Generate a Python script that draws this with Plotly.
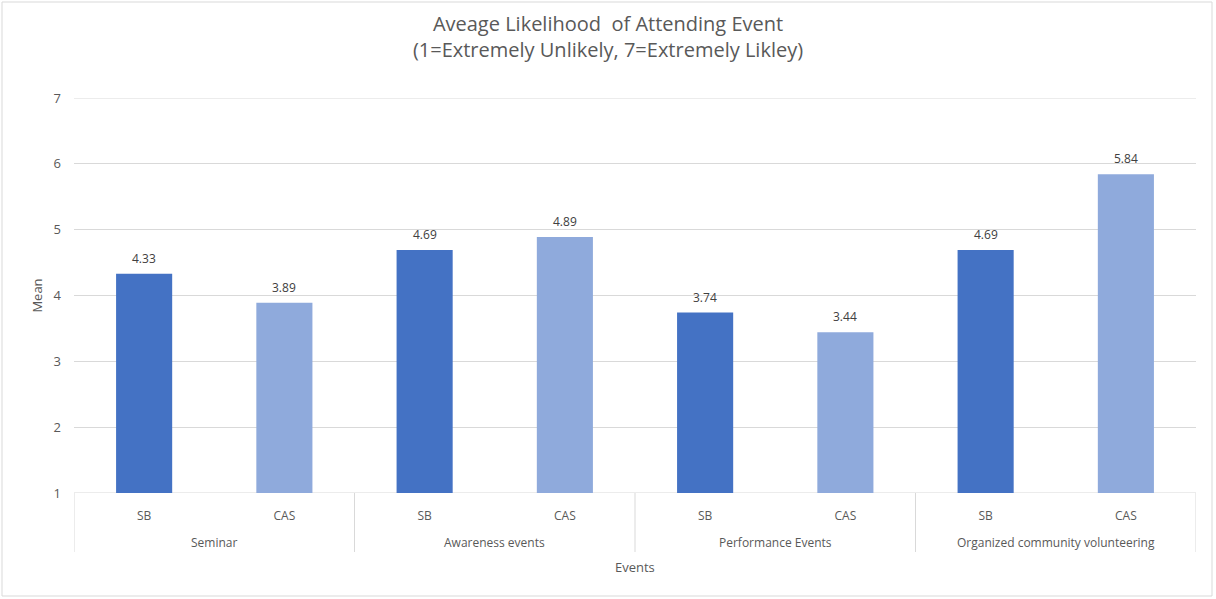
import plotly.graph_objects as go

events = ["Seminar", "Awareness events", "Performance Events", "Organized community volunteering"]
groups = ["SB", "CAS"]
sb_means = [4.33, 4.69, 3.74, 4.69]
cas_means = [3.89, 4.89, 3.44, 5.84]
group_colors = {"SB": "#4472C4", "CAS": "#8FAADC"}

W, H = 1216, 599
ML, MR, MT, MB = 74, 20, 98, 106
PLOT_H = H - MT - MB
GRID = "#D9D9D9"
TXT = "#595959"
Y_MIN, Y_MAX = 1, 7


def below(px):
    """paper y for a point px pixels below the x axis"""
    return -px / PLOT_H


# bars laid out in order: SB then CAS within each event
pos, inner, vals, colors = [], [], [], []
for i, ev in enumerate(events):
    for g, v in ((groups[0], sb_means[i]), (groups[1], cas_means[i])):
        pos.append(len(pos))
        inner.append(g)
        vals.append(v)
        colors.append(group_colors[g])

fig = go.Figure(go.Bar(
    x=pos, y=vals,
    marker=dict(color=colors, line=dict(width=0)),
    width=0.4,
    cliponaxis=True,
    hoverinfo="x+y",
))

annotations = []
# value labels above each bar
for x, v in zip(pos, vals):
    annotations.append(dict(
        x=x, y=v, xref="x", yref="y", text=f"{v:.2f}", showarrow=False,
        yanchor="bottom", yshift=5, font=dict(size=12, color="#404040"),
    ))
# event group labels under the SB/CAS row
for i, ev in enumerate(events):
    annotations.append(dict(
        x=2 * i + 0.5, y=below(49), xref="x", yref="paper", text=ev, showarrow=False,
        yanchor="middle", font=dict(size=12, color=TXT),
    ))
# x axis title
annotations.append(dict(
    x=0.5, y=below(74), xref="paper", yref="paper", text="Events", showarrow=False,
    yanchor="middle", font=dict(size=13, color=TXT),
))

shapes = []
# top gridline and axis line at the bottom of the plot
for yv in (Y_MIN, Y_MAX):
    shapes.append(dict(type="line", xref="paper", yref="y", x0=0, x1=1,
                       y0=yv, y1=yv, line=dict(color=GRID, width=1), layer="below"))
# vertical dividers between event groups
for k in range(len(events) + 1):
    shapes.append(dict(type="line", xref="x", yref="paper", x0=2 * k - 0.5, x1=2 * k - 0.5,
                       y0=0, y1=below(59), line=dict(color=GRID, width=1)))
# chart border
shapes.append(dict(
    type="rect", xref="paper", yref="paper",
    x0=(2 - ML) / (W - ML - MR), x1=(W - 4 - ML) / (W - ML - MR),
    y0=-(H - 3 - (H - MB)) / PLOT_H, y1=1 + (MT - 2) / PLOT_H,
    line=dict(color=GRID, width=1), fillcolor="rgba(0,0,0,0)", layer="below",
))

fig.update_layout(
    width=W, height=H,
    margin=dict(l=ML, r=MR, t=MT, b=MB),
    paper_bgcolor="white", plot_bgcolor="white",
    font=dict(family="Open Sans", color=TXT, size=12),
    title=dict(
        text="Aveage Likelihood  of Attending Event<br>(1=Extremely Unlikely, 7=Extremely Likley)",
        x=0.5, xanchor="center", yref="container", y=0.948, yanchor="top",
        font=dict(size=20, color=TXT),
    ),
    showlegend=False,
    xaxis=dict(
        range=[-0.5, len(pos) - 0.5],
        tickvals=pos, ticktext=inner,
        ticks="", showgrid=False, zeroline=False, showline=False,
        tickfont=dict(size=12, color=TXT),
        ticklabelstandoff=14,
    ),
    yaxis=dict(
        range=[Y_MIN, Y_MAX], tickvals=list(range(Y_MIN, Y_MAX + 1)),
        showgrid=True, gridcolor=GRID, gridwidth=1,
        zeroline=False, showline=False,
        tickfont=dict(size=13, color=TXT),
        ticklabelstandoff=12,
        title=dict(text="Mean", font=dict(size=13, color=TXT), standoff=8),
    ),
    annotations=annotations,
    shapes=shapes,
)

fig.write_html("out.html")
